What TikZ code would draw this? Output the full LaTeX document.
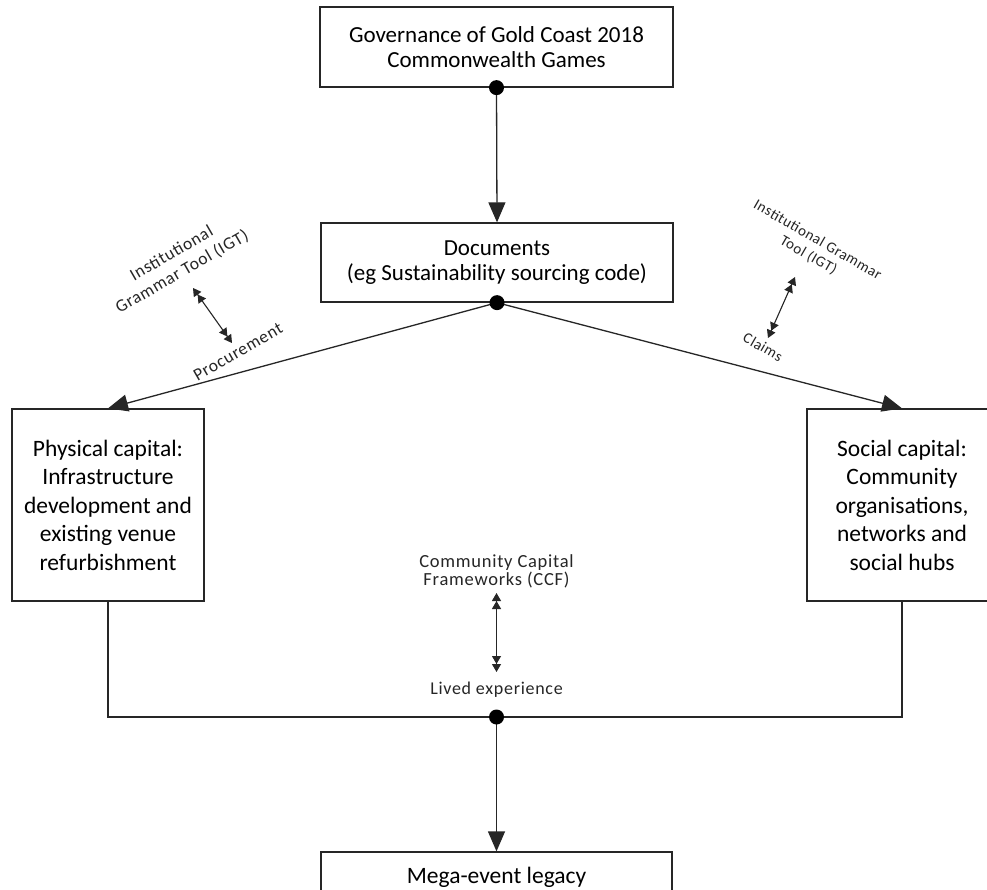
\documentclass[tikz,border=0pt]{standalone}
\usepackage{fontspec}
\setmainfont{Carlito}
\newfontfamily\trackfont[LetterSpace=4]{Carlito}
\usetikzlibrary{arrows.meta}
\begin{document}
\begin{tikzpicture}[x=1pt,y=-1pt,
  box/.style={draw=black!85,line width=1.3pt,align=center,inner sep=0pt,font=\fontsize{23}{25}\selectfont},
  sidebox/.style={box,font=\fontsize{23.5}{28.5}\selectfont},
  lbl/.style={align=center,inner sep=1pt,font=\trackfont\fontsize{17.5}{21}\selectfont,text=black!85},
  conn/.style={draw=black!85,line width=1.3pt},
  bigarrow/.style={conn,-{Triangle[length=20pt,width=17pt]}},
  dtip/.tip={Triangle[length=8pt,width=9pt]Triangle[length=8pt,width=9pt]},
  dbl/.style={draw=black!85,line width=1.1pt,dtip-dtip},
  dotc/.style={circle,fill=black,inner sep=0pt,minimum size=15pt}]
\useasboundingbox (0,0) rectangle (987,890);
\clip (0,0) rectangle (987,890);
\fill[white] (0,0) rectangle (987,890);

\node[box,minimum width=353pt,minimum height=80pt] (top) at (496.5,47) {Governance of Gold Coast 2018\\Commonwealth Games};
\node[box,minimum width=352pt,minimum height=79pt] (docs) at (497,262.5) {Documents\\(eg Sustainability sourcing code)};
\node[sidebox,minimum width=192pt,minimum height=192pt] (phys) at (108,505) {Physical capital:\\Infrastructure\\development and\\existing venue\\refurbishment};
\node[sidebox,minimum width=190pt,minimum height=192pt] (soc) at (902,505) {Social capital:\\Community\\organisations,\\networks and\\social hubs};
\node[sidebox,minimum width=351pt,minimum height=50pt] (legacy) at (496.5,877) {Mega-event legacy};

\coordinate (j) at (496.5,717);

\draw[bigarrow] (top.south) -- (docs.north);
\draw[bigarrow] (docs.south) -- (phys.north);
\draw[bigarrow] (docs.south) -- (soc.north);
\draw[conn] (phys.south) |- (j) -| (soc.south);
\draw[bigarrow] (j) -- (legacy.north);

\node[dotc] (d1) at (top.south) {};
\node[dotc] (d2) at (docs.south) {};
\node[dotc] (d3) at (j) {};

% left labels
\node[lbl,rotate=30] (igtL) at (177,263) {Institutional\\Grammar Tool (IGT)};
\node[lbl,rotate=30] (proc) at (238,352) {Procurement};
\coordinate (a1) at (193,288);
\coordinate (a2) at (232,343);
\draw[dbl] (a1) -- (a2);

% right labels
\node[lbl,rotate=-30,font=\trackfont\fontsize{15}{18}\selectfont] (igtR) at (813,248) {Institutional Grammar\\Tool (IGT)};
\node[lbl,rotate=-30,font=\trackfont\fontsize{15}{18}\selectfont] (claims) at (763,347) {Claims};
\coordinate (b1) at (795,277);
\coordinate (b2) at (768,338);
\draw[dbl] (b1) -- (b2);

% middle labels
\node[lbl,font=\trackfont\fontsize{18.5}{18}\selectfont] (ccf) at (496.5,571) {Community Capital\\Frameworks (CCF)};
\node[lbl,font=\trackfont\fontsize{18}{18}\selectfont] (lived) at (496.5,690) {Lived experience};
\coordinate (c1) at (496.5,593);
\coordinate (c2) at (496.5,672);
\draw[dbl] (c1) -- (c2);
\end{tikzpicture}
\end{document}
